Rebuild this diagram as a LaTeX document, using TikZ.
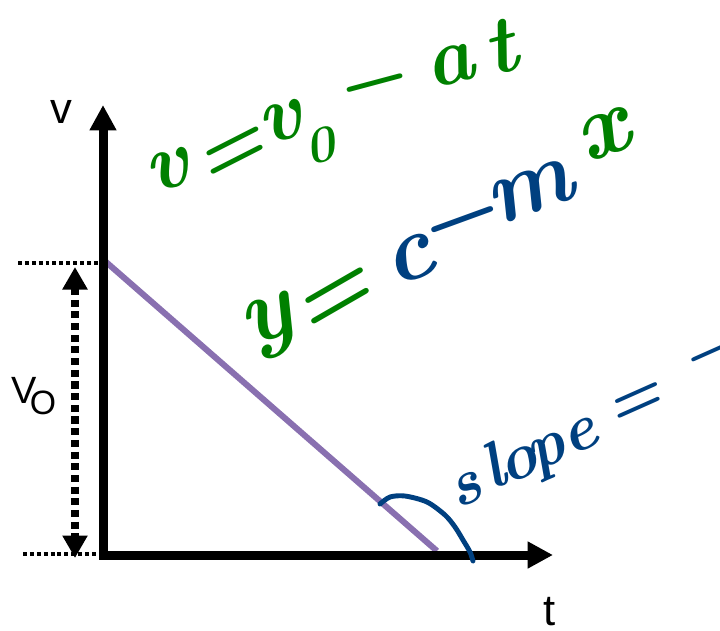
\documentclass[tikz,border=0pt]{standalone}
\usepackage{fontspec}
\newfontfamily\labelfont{Liberation Sans}
\usetikzlibrary{arrows.meta}
\definecolor{inkgreen}{RGB}{0,128,0}
\definecolor{inkblue}{RGB}{0,64,128}
\definecolor{lineviolet}{RGB}{137,112,176}
\begin{document}
\begin{tikzpicture}[x=0.025cm,y=-0.025cm,
  axis/.style={line width=6.4pt,-{Triangle[length=18pt,width=18pt]}},
  guide/.style={line width=2.2pt,dash pattern=on 2.8pt off 2.1pt},
  span/.style={line width=5pt,dash pattern=on 5pt off 3.3pt,
    {Triangle[length=16pt,width=17pt]}-{Triangle[length=16pt,width=17pt]}},
  lab/.style={inner sep=0pt,font=\labelfont\fontsize{31}{31}\selectfont},
  hwa/.style={inner sep=0pt,rotate=15,font=\fontsize{58}{58}\selectfont\bfseries\itshape},
  hwb/.style={inner sep=0pt,rotate=20,font=\fontsize{66}{66}\selectfont\bfseries\itshape},
  hwc/.style={inner sep=0pt,rotate=24,font=\fontsize{46}{46}\selectfont\bfseries\itshape},
  hook/.style={inkblue,line width=3.5pt,line cap=round,line join=round}]
\useasboundingbox (0,0) rectangle (720,630);
\clip (0,0) rectangle (720,630);
% coordinates
\coordinate (O) at (103,559);
\coordinate (Ox) at (99,555);
\coordinate (ytip) at (103,105);
\coordinate (xtip) at (553,555);
\coordinate (vtop) at (106,262);
\coordinate (vend) at (437,551);
\coordinate (gt1) at (18,263);
\coordinate (gt2) at (100,263);
\coordinate (gb1) at (23,554);
\coordinate (gb2) at (100,554);
\coordinate (s1) at (75,267);
\coordinate (s2) at (75,558);
% guides
\draw[guide] (gt1) -- (gt2);
\draw[guide] (gb1) -- (gb2);
\draw[span] (s1) -- (s2);
% data line
\draw[lineviolet,line width=4.3pt] (vtop) -- (vend);
% axes
\draw[axis] (O) -- (ytip);
\draw[axis] (Ox) -- (xtip);
% labels
\node[lab] (vlab) at (61,112) {v};
\node[lab] (tlab) at (550,612) {t};
\node[lab,font=\labelfont\fontsize{27}{27}\selectfont] (Vlab) at (24,390) {V};
\node[lab,font=\labelfont\fontsize{24}{24}\selectfont] (Olab) at (43,403) {O};
% handwriting: v = v0 - at
\begin{scope}[inkgreen]
\node[hwa] (a1) at (168,170) {v};
\node[hwa,rotate=12] (a2) at (232,157) {=};
\node[hwa] (a3) at (281,122) {v};
\node[hwa,font=\fontsize{36}{36}\selectfont\bfseries\itshape] (a4) at (320,146) {0};
\node[hwa] (a5) at (372,93) {−};
\node[hwa] (a6) at (450,66) {a};
\node[hwa] (a7) at (500,47) {t};
\end{scope}
% handwriting: y = c - m x
\node[hwb,inkgreen] (b1) at (270,328) {y};
\node[hwb,inkgreen,rotate=10] (b2) at (335,303) {=};
\node[hwb,inkblue] (b3) at (410,260) {c};
\node[hwb,inkblue] (b4) at (461,231) {−};
\node[hwb,inkblue] (b5) at (531,192) {m};
\node[hwb,inkgreen] (b6) at (604,135) {x};
% handwriting: slope = -
\begin{scope}[inkblue]
\node[hwc] (c1) at (466,490) {s};
\node[hwc] (c2) at (492,466) {l};
\node[hwc] (c3) at (519,465) {o};
\node[hwc] (c4) at (550,457) {p};
\node[hwc] (c5) at (580,436) {e};
\node[hwc] (c6) at (635,405) {=};
\node[hwc] (c7) at (712,360) {−};
\end{scope}
\draw[hook] plot[smooth] coordinates {(380,504) (390,497) (405,496) (427,502) (445,515) (455,527) (463,540) (470,552) (473,561)};
\end{tikzpicture}
\end{document}
